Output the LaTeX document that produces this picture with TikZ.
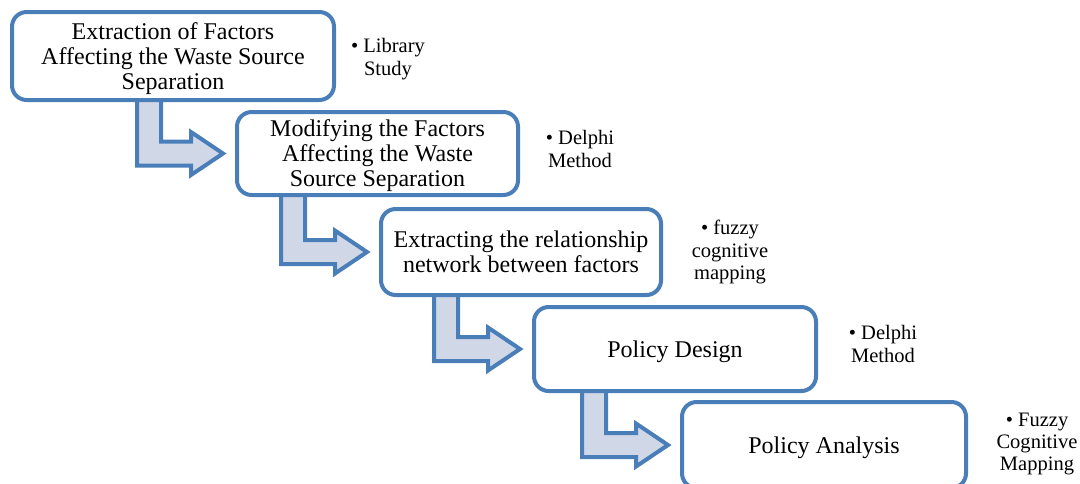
\documentclass[tikz,border=0pt]{standalone}
\usepackage{fontspec}
\setmainfont{Liberation Serif}
\usetikzlibrary{calc,backgrounds}
\definecolor{stepblue}{RGB}{74,126,184}
\definecolor{steplight}{RGB}{208,216,232}

\begin{document}
\begin{tikzpicture}[x=0.75pt,y=-0.75pt,
    stepbox/.style={draw=stepblue,line width=3pt,rounded corners=11pt,fill=white,
        align=center,outer sep=0pt,inner sep=0pt,
        execute at begin node={\rule{0pt}{17pt}},
        font=\fontsize{18}{18.75}\selectfont},
    methodtext/.style={align=center,inner sep=0pt,font=\fontsize{15.4}{16.8}\selectfont},
    flowarrow/.style={draw=stepblue,fill=steplight,line width=3pt,line join=miter}]
    \clip (0,0) rectangle (1080,483);

    \node[stepbox,text depth=0pt,minimum width=241.5pt,minimum height=66pt] (s1) at (173,56)
        {Extraction of Factors\\Affecting the Waste Source\\Separation};
    \node[stepbox,text depth=0pt,minimum width=210.75pt,minimum height=62.25pt] (s2) at (377.5,153.5)
        {Modifying the Factors\\Affecting the Waste\\Source Separation};
    \node[stepbox,minimum width=210pt,minimum height=64.5pt] (s3) at (521,252)
        {Extracting the relationship\\network between factors};
    \node[stepbox,minimum width=211.5pt,minimum height=63pt] (s4) at (675,349)
        {Policy Design};
    \node[stepbox,minimum width=213pt,minimum height=64.5pt] (s5) at (824,445)
        {Policy Analysis};

    \node[methodtext] (m1) at (388,59) {\textbullet\ Library\\Study};
    \node[methodtext] (m2) at (580,149) {\textbullet\ Delphi\\Method};
    \node[methodtext] (m3) at (730,252) {\textbullet\ fuzzy\\cognitive\\mapping};
    \node[methodtext] (m4) at (883,344) {\textbullet\ Delphi\\Method};
    \node[methodtext] (m5) at (1037,444) {\textbullet\ Fuzzy\\Cognitive\\Mapping};

    \begin{scope}[on background layer]
    \foreach \a/\b in {s1/s2,s2/s3,s3/s4,s4/s5}
    {
        \draw[flowarrow] ($(\b.west |- \a.south)+(-100,-5)$)
        -- ($(\b.west |- \a.south)+(-76,-5)$)
        -- ($(\b.west)+(-76,-12)$) -- ($(\b.west)+(-46,-12)$)
        -- ($(\b.west)+(-46,-21.5)$) -- ($(\b.west)+(-14,0)$)
        -- ($(\b.west)+(-46,21.5)$) -- ($(\b.west)+(-46,12)$)
        -- ($(\b.west)+(-100,12)$) -- cycle;
    }
    \end{scope}
\end{tikzpicture}
\end{document}
